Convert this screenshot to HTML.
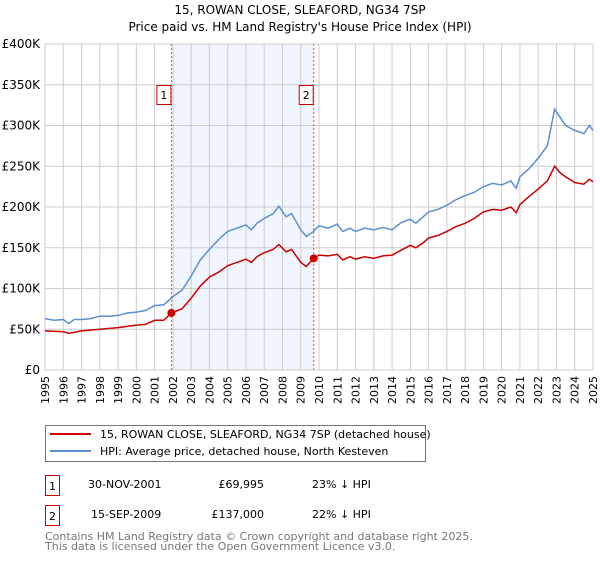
<!DOCTYPE html>
<html><head><meta charset="utf-8"><style>
body{margin:0;width:600px;height:560px;background:#fff;font-family:"DejaVu Sans","Liberation Sans",sans-serif;overflow:hidden}
svg text{font-family:"DejaVu Sans","Liberation Sans",sans-serif}
</style></head><body>
<svg id="c" width="600" height="560">
<text x="300" y="14" text-anchor="middle" font-size="12">15, ROWAN CLOSE, SLEAFORD, NG34 7SP</text>
<text x="300" y="31" text-anchor="middle" font-size="12">Price paid vs. HM Land Registry's House Price Index (HPI)</text>
<g id="plot"></g>
<g>
<rect x="45.5" y="425.5" width="380" height="36" fill="#fff" stroke="#777"/>
<line x1="50" y1="434" x2="91" y2="434" stroke="#cc0000" stroke-width="2"/>
<text x="100" y="438" font-size="11">15, ROWAN CLOSE, SLEAFORD, NG34 7SP (detached house)</text>
<line x1="50" y1="451" x2="91" y2="451" stroke="#5b8fd0" stroke-width="2"/>
<text x="100" y="455" font-size="11">HPI: Average price, detached house, North Kesteven</text>
</g>
<g font-size="11">
<rect x="45.5" y="475.5" width="14" height="20" fill="#fff" stroke="#cc0000"/>
<text x="52.5" y="490" text-anchor="middle">1</text>
<text x="88" y="488">30-NOV-2001</text><text x="264" y="488" text-anchor="end">£69,995</text><text x="312" y="488">23% ↓ HPI</text>
<rect x="45.5" y="505.5" width="14" height="20" fill="#fff" stroke="#cc0000"/>
<text x="52.5" y="520" text-anchor="middle">2</text>
<text x="91" y="518">15-SEP-2009</text><text x="264" y="518" text-anchor="end">£137,000</text><text x="312" y="518">22% ↓ HPI</text>
</g>
<text x="45" y="540" font-size="11" fill="#777">Contains HM Land Registry data © Crown copyright and database right 2025.</text>
<text x="45" y="550" font-size="11" fill="#777">This data is licensed under the Open Government Licence v3.0.</text>
</svg>
<script>
const hpiT=[1995,1995.5,1996,1996.3,1996.6,1997,1997.5,1998,1998.5,1999,1999.5,2000,2000.5,2001,2001.5,2002,2002.5,2003,2003.5,2004,2004.5,2005,2005.5,2006,2006.3,2006.6,2007,2007.5,2007.8,2008.2,2008.5,2009,2009.3,2009.7,2010,2010.5,2011,2011.3,2011.7,2012,2012.5,2013,2013.5,2014,2014.5,2015,2015.3,2015.7,2016,2016.5,2017,2017.5,2018,2018.5,2019,2019.5,2020,2020.5,2020.8,2021,2021.5,2022,2022.5,2022.9,2023.2,2023.5,2024,2024.5,2024.8,2025];
const hpiV=[63,61,62,57,62,62,63,66,66,67,70,71,73,79,80,90,98,115,135,148,160,170,174,178,172,180,186,192,201,188,192,172,164,170,177,174,179,170,174,170,174,172,175,172,181,185,180,188,194,197,202,209,214,218,225,229,227,232,223,237,247,260,275,320,310,300,294,290,300,294];
const priceT=[1995,1996,1996.3,1997,1998,1999,2000,2000.5,2001,2001.5,2001.92,2002.5,2003,2003.5,2004,2004.5,2005,2005.5,2006,2006.3,2006.6,2007,2007.5,2007.8,2008.2,2008.5,2009,2009.3,2009.71,2010,2010.5,2011,2011.3,2011.7,2012,2012.5,2013,2013.5,2014,2014.5,2015,2015.3,2015.7,2016,2016.5,2017,2017.5,2018,2018.5,2019,2019.5,2020,2020.5,2020.8,2021,2021.5,2022,2022.5,2022.9,2023.2,2023.5,2024,2024.5,2024.8,2025];
const priceV=[48,47,45,48,50,52,55,56,61,61,70,75,88,103,114,120,128,132,136,132,139,144,148,154,145,148,132,127,137,141,140,142,135,139,136,139,137,140,141,147,153,150,156,162,165,170,176,180,186,194,197,196,200,193,203,213,222,232,250,242,237,230,228,234,231];
const saleT=[2001.92,2009.71];
const saleV=[69.995,137];
const yTicks=[0,50,100,150,200,250,300,350,400];
const yLabels=["£0","£50K","£100K","£150K","£200K","£250K","£300K","£350K","£400K"];
const NS="http://www.w3.org/2000/svg";
const X0=45,X1=593,Y0=370,Y1=44;
const x=t=>X0+(t-1995)*(X1-X0)/30;
const y=v=>Y0-v*(Y0-Y1)/400;
const g=document.getElementById('plot');
function mk(tag,a){const e=document.createElementNS(NS,tag);for(const k in a)e.setAttribute(k,a[k]);g.appendChild(e);return e;}
let r=mk('rect',{x:x(saleT[0]),y:Y1,width:x(saleT[1])-x(saleT[0]),height:Y0-Y1,fill:'#eef3fd',opacity:0.8});


for(let yr=1995;yr<=2025;yr++){
 let l=mk('line',{x1:x(yr),x2:x(yr),y1:Y1,y2:Y0,stroke:'#ccc','stroke-width':1});
 
 
 let t=mk('text',{x:0,y:0,'font-size':11,'text-anchor':'end',transform:`translate(${x(yr)+4},${Y0+6}) rotate(-90)`});
 t.textContent=yr;
 
 
}
yTicks.forEach((v,i)=>{
 let l=mk('line',{x1:X0,x2:X1,y1:y(v),y2:y(v),stroke:'#ccc','stroke-width':1});
 
 
 let t=mk('text',{x:X0-5,y:y(v)+4,'font-size':12,'text-anchor':'end'});
 t.textContent=yLabels[i];
 
 
});
saleT.forEach((t,i)=>{
 let l=mk('line',{x1:x(t),x2:x(t),y1:Y1,y2:Y0,stroke:'#e05555','stroke-width':1,'stroke-dasharray':'2,2'});
 
 
 let b=mk('rect',{x:x(t)-14.5,y:85.5,width:14,height:19,fill:'#fff',stroke:'#cc0000'});
 
 
 let tx=mk('text',{x:x(t)-7.5,y:99,'font-size':11,'text-anchor':'middle'});
 tx.textContent=String(i+1);
 
 
});
let h=mk('polyline',{points:hpiT.map((t,i)=>x(t)+','+y(hpiV[i])).join(' '),fill:'none',stroke:'#5b8fd0','stroke-width':1.5});


let p=mk('polyline',{points:priceT.map((t,i)=>x(t)+','+y(priceV[i])).join(' '),fill:'none',stroke:'#cc0000','stroke-width':1.5});


saleT.forEach((t,i)=>{
 let c=mk('circle',{cx:x(t),cy:y(saleV[i]),r:4,fill:'#cc0000'});
 
 
});
</script>
</body></html>
